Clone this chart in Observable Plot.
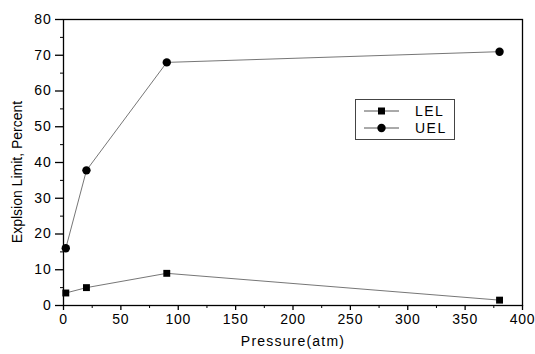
<!DOCTYPE html>
<html>
<head>
<meta charset="utf-8">
<script src="https://cdn.jsdelivr.net/npm/d3@7"></script>
<script src="https://cdn.jsdelivr.net/npm/@observablehq/plot@0.6"></script>
<style>
  html, body { margin: 0; padding: 0; background: #fff; }
  #wrap { position: relative; width: 535px; height: 354px; font-family: "Liberation Sans", Arial, sans-serif; }
  #legend { position: absolute; left: 355px; top: 99px; width: 100px; height: 41px; border: 1px solid #444; box-sizing: border-box; background: #fff; }
</style>
</head>
<body>
<div id="wrap"><div id="chart"></div><div id="legend"></div></div>
<script>
// Data
const pressure = [2, 20, 90, 380];
const lel = [3.5, 5, 9, 1.5];
const uel = [16, 37.8, 68, 71];
const seriesNames = ["LEL", "UEL"];
const xMajor = [0, 50, 100, 150, 200, 250, 300, 350, 400];
const yMajor = [0, 10, 20, 30, 40, 50, 60, 70, 80];

const rows = [];
pressure.forEach((p, i) => rows.push({series: "LEL", p, v: lel[i]}));
pressure.forEach((p, i) => rows.push({series: "UEL", p, v: uel[i]}));

const xMinor = d3.range(25, 400, 50);
const yMinor = d3.range(5, 80, 10);

const chart = Plot.plot({
  width: 535,
  height: 354,
  marginLeft: 63,
  marginRight: 13,
  marginTop: 19,
  marginBottom: 49,
  style: {fontFamily: "Liberation Sans, Arial, sans-serif", fontSize: "14px", color: "#000", background: "#fff", overflow: "visible"},
  x: {domain: [0, 400]},
  y: {domain: [0, 80]},
  marks: [
    Plot.axisX({ticks: xMinor, tickSize: 3, text: null, label: null, stroke: "#000", strokeWidth: 1}),
    Plot.axisY({ticks: yMinor, tickSize: 3, text: null, label: null, stroke: "#000", strokeWidth: 1}),
    Plot.axisX({ticks: xMajor, tickSize: 5, tickPadding: 4, label: null, fontSize: 14, stroke: "#000", strokeWidth: 1.3}),
    Plot.axisY({ticks: yMajor, tickSize: 8, tickPadding: 4, label: null, fontSize: 14, stroke: "#000", strokeWidth: 1.3}),
    Plot.frame({stroke: "#000", strokeWidth: 1.3}),
    Plot.line(rows, {x: "p", y: "v", z: "series", stroke: "#666", strokeWidth: 0.9}),
    Plot.dot(rows.filter(d => d.series === "LEL"), {x: "p", y: "v", symbol: "square", r: 3.9, fill: "#000", stroke: "none"}),
    Plot.dot(rows.filter(d => d.series === "UEL"), {x: "p", y: "v", symbol: "circle", r: 4.2, fill: "#000", stroke: "none"})
  ]
});
document.getElementById("chart").appendChild(chart);

// Axis titles as SVG text
const svg = d3.select(chart);
svg.append("text")
  .attr("x", 293).attr("y", 346)
  .attr("text-anchor", "middle")
  .attr("font-size", 14)
  .attr("letter-spacing", "1.2px")
  .attr("fill", "#000")
  .text("Pressure(atm)");
svg.append("text")
  .attr("transform", "translate(22,172) rotate(-90)")
  .attr("text-anchor", "middle")
  .attr("font-size", 14)
  .attr("fill", "#000")
  .text("Explsion Limit, Percent");
svg.selectAll("g[aria-label='x-axis tick label'] text, g[aria-label='y-axis tick label'] text").attr("letter-spacing", "0.8px");

// Legend
const leg = d3.select("#legend").append("svg").attr("width", 98).attr("height", 39);
seriesNames.forEach((name, i) => {
  const y = 11 + i * 17;
  leg.append("line").attr("x1", 8).attr("x2", 43).attr("y1", y).attr("y2", y).attr("stroke", "#555").attr("stroke-width", 1);
  const sym = name === "LEL" ? d3.symbolSquare : d3.symbolCircle;
  const size = name === "LEL" ? 49 : 55;
  leg.append("path").attr("d", d3.symbol(sym, size)()).attr("transform", `translate(25.5,${y})`).attr("fill", "#000");
  leg.append("text").attr("x", 59).attr("y", y + 5).attr("font-size", 14).attr("letter-spacing", "1.5px")
    .attr("font-family", "Liberation Sans, Arial, sans-serif").text(name);
});
</script>
</body>
</html>
